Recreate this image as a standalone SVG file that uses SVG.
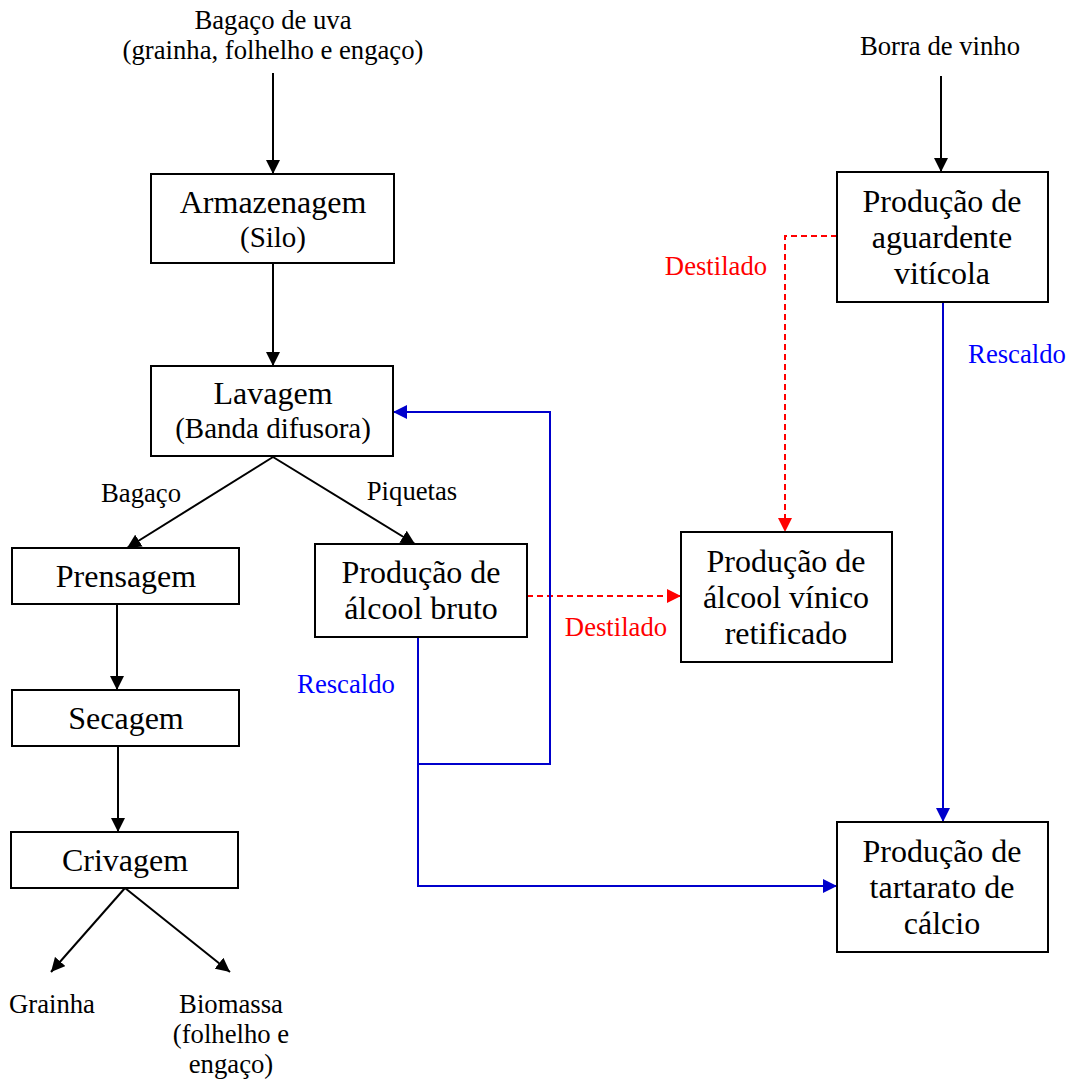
<svg xmlns="http://www.w3.org/2000/svg" width="1070" height="1081" viewBox="0 0 1070 1081">
  <style>
    .box { fill: #ffffff; stroke: #000000; stroke-width: 2; }
    text { font-family: 'Liberation Serif', 'Times New Roman', 'DejaVu Serif', serif; fill: #000000; text-anchor: middle; }
    .big { font-size: 32px; }
    .mid { font-size: 29px; }
    .lbl { font-size: 26.7px; }
    .red { fill: #ff0000; }
    .blue { fill: #0000ff; }
    .ln { fill: none; stroke: #000000; stroke-width: 2; }
    .lnb { fill: none; stroke: #0000cc; stroke-width: 2; }
    .lnr { fill: none; stroke: #ff0000; stroke-width: 2; stroke-dasharray: 6 4; }
  </style>
  <defs>
    <marker id="ah" markerUnits="userSpaceOnUse" markerWidth="14" markerHeight="14" refX="14" refY="7" orient="auto">
      <path d="M0,0 L14,7 L0,14 z" fill="#000000"/>
    </marker>
    <marker id="ahb" markerUnits="userSpaceOnUse" markerWidth="14" markerHeight="14" refX="14" refY="7" orient="auto">
      <path d="M0,0 L14,7 L0,14 z" fill="#0000cc"/>
    </marker>
    <marker id="ahr" markerUnits="userSpaceOnUse" markerWidth="14" markerHeight="14" refX="14" refY="7" orient="auto">
      <path d="M0,0 L14,7 L0,14 z" fill="#ff0000"/>
    </marker>
  </defs>

  <rect width="1070" height="1081" fill="#ffffff"/>

  <!-- connectors -->
  <g id="connectors">
    <line class="ln" x1="273" y1="73" x2="273" y2="174" marker-end="url(#ah)"/>
    <line class="ln" x1="273" y1="263" x2="273" y2="366" marker-end="url(#ah)"/>
    <line class="ln" x1="273" y1="457" x2="127" y2="548" marker-end="url(#ah)"/>
    <line class="ln" x1="273" y1="457" x2="415" y2="544" marker-end="url(#ah)"/>
    <line class="ln" x1="117" y1="604" x2="117" y2="690" marker-end="url(#ah)"/>
    <line class="ln" x1="118" y1="746" x2="118" y2="832" marker-end="url(#ah)"/>
    <line class="ln" x1="125" y1="888" x2="51" y2="972" marker-end="url(#ah)"/>
    <line class="ln" x1="125" y1="888" x2="230" y2="972" marker-end="url(#ah)"/>
    <line class="ln" x1="941" y1="76" x2="941" y2="172" marker-end="url(#ah)"/>
    <!-- distillate flows -->
    <line class="lnr" x1="527" y1="596" x2="681" y2="596" marker-end="url(#ahr)"/>
    <polyline class="lnr" points="837,236 785,236 785,532" marker-end="url(#ahr)"/>
    <!-- rescaldo flows -->
    <line class="lnb" x1="943" y1="302" x2="943" y2="822" marker-end="url(#ahb)"/>
    <polyline class="lnb" points="418,637 418,886 837,886" marker-end="url(#ahb)"/>
    <polyline class="lnb" points="418,764 550,764 550,412 393,412" marker-end="url(#ahb)"/>
  </g>

  <!-- free labels -->
  <g id="labels" font-family="'Liberation Serif', 'Times New Roman', serif">
    <text class="lbl" x="273" y="29">Bagaço de uva</text>
    <text class="lbl" x="273" y="59">(grainha, folhelho e engaço)</text>
    <text class="lbl" x="940" y="55">Borra de vinho</text>
    <text class="lbl" x="141" y="502">Bagaço</text>
    <text class="lbl" x="412" y="500">Piquetas</text>
    <text class="lbl red" x="616" y="636">Destilado</text>
    <text class="lbl red" x="716" y="275">Destilado</text>
    <text class="lbl blue" x="1017" y="363">Rescaldo</text>
    <text class="lbl blue" x="346" y="693">Rescaldo</text>
    <text class="lbl" x="52" y="1013">Grainha</text>
    <text class="lbl" x="231" y="1013">Biomassa</text>
    <text class="lbl" x="231" y="1043">(folhelho e</text>
    <text class="lbl" x="231" y="1073">engaço)</text>
  </g>

  <g id="armazenagem">
    <rect class="box" x="151" y="174" width="243" height="89"/>
    <text class="big" x="273" y="213">Armazenagem</text>
    <text class="mid" x="273" y="247">(Silo)</text>
  </g>

  <g id="lavagem">
    <rect class="box" x="151" y="366" width="242" height="90"/>
    <text class="big" x="273" y="404">Lavagem</text>
    <text class="mid" x="273" y="438">(Banda difusora)</text>
  </g>

  <g id="prensagem">
    <rect class="box" x="12" y="548" width="227" height="56"/>
    <text class="big" x="126" y="587">Prensagem</text>
  </g>

  <g id="secagem">
    <rect class="box" x="12" y="690" width="227" height="56"/>
    <text class="big" x="126" y="729">Secagem</text>
  </g>

  <g id="crivagem">
    <rect class="box" x="11" y="832" width="227" height="56"/>
    <text class="big" x="125" y="871">Crivagem</text>
  </g>

  <g id="alcool-bruto">
    <rect class="box" x="315" y="544" width="212" height="93"/>
    <text class="big" x="421" y="583">Produção de</text>
    <text class="big" x="421" y="619">álcool bruto</text>
  </g>

  <g id="alcool-vinico">
    <rect class="box" x="681" y="532" width="211" height="130"/>
    <text class="big" x="786" y="572">Produção de</text>
    <text class="big" x="786" y="608">álcool vínico</text>
    <text class="big" x="786" y="644">retificado</text>
  </g>

  <g id="aguardente">
    <rect class="box" x="837" y="172" width="211" height="130"/>
    <text class="big" x="942" y="212">Produção de</text>
    <text class="big" x="942" y="248">aguardente</text>
    <text class="big" x="942" y="284">vitícola</text>
  </g>

  <g id="tartarato">
    <rect class="box" x="837" y="822" width="211" height="130"/>
    <text class="big" x="942" y="862">Produção de</text>
    <text class="big" x="942" y="898">tartarato de</text>
    <text class="big" x="942" y="934">cálcio</text>
  </g>
</svg>
